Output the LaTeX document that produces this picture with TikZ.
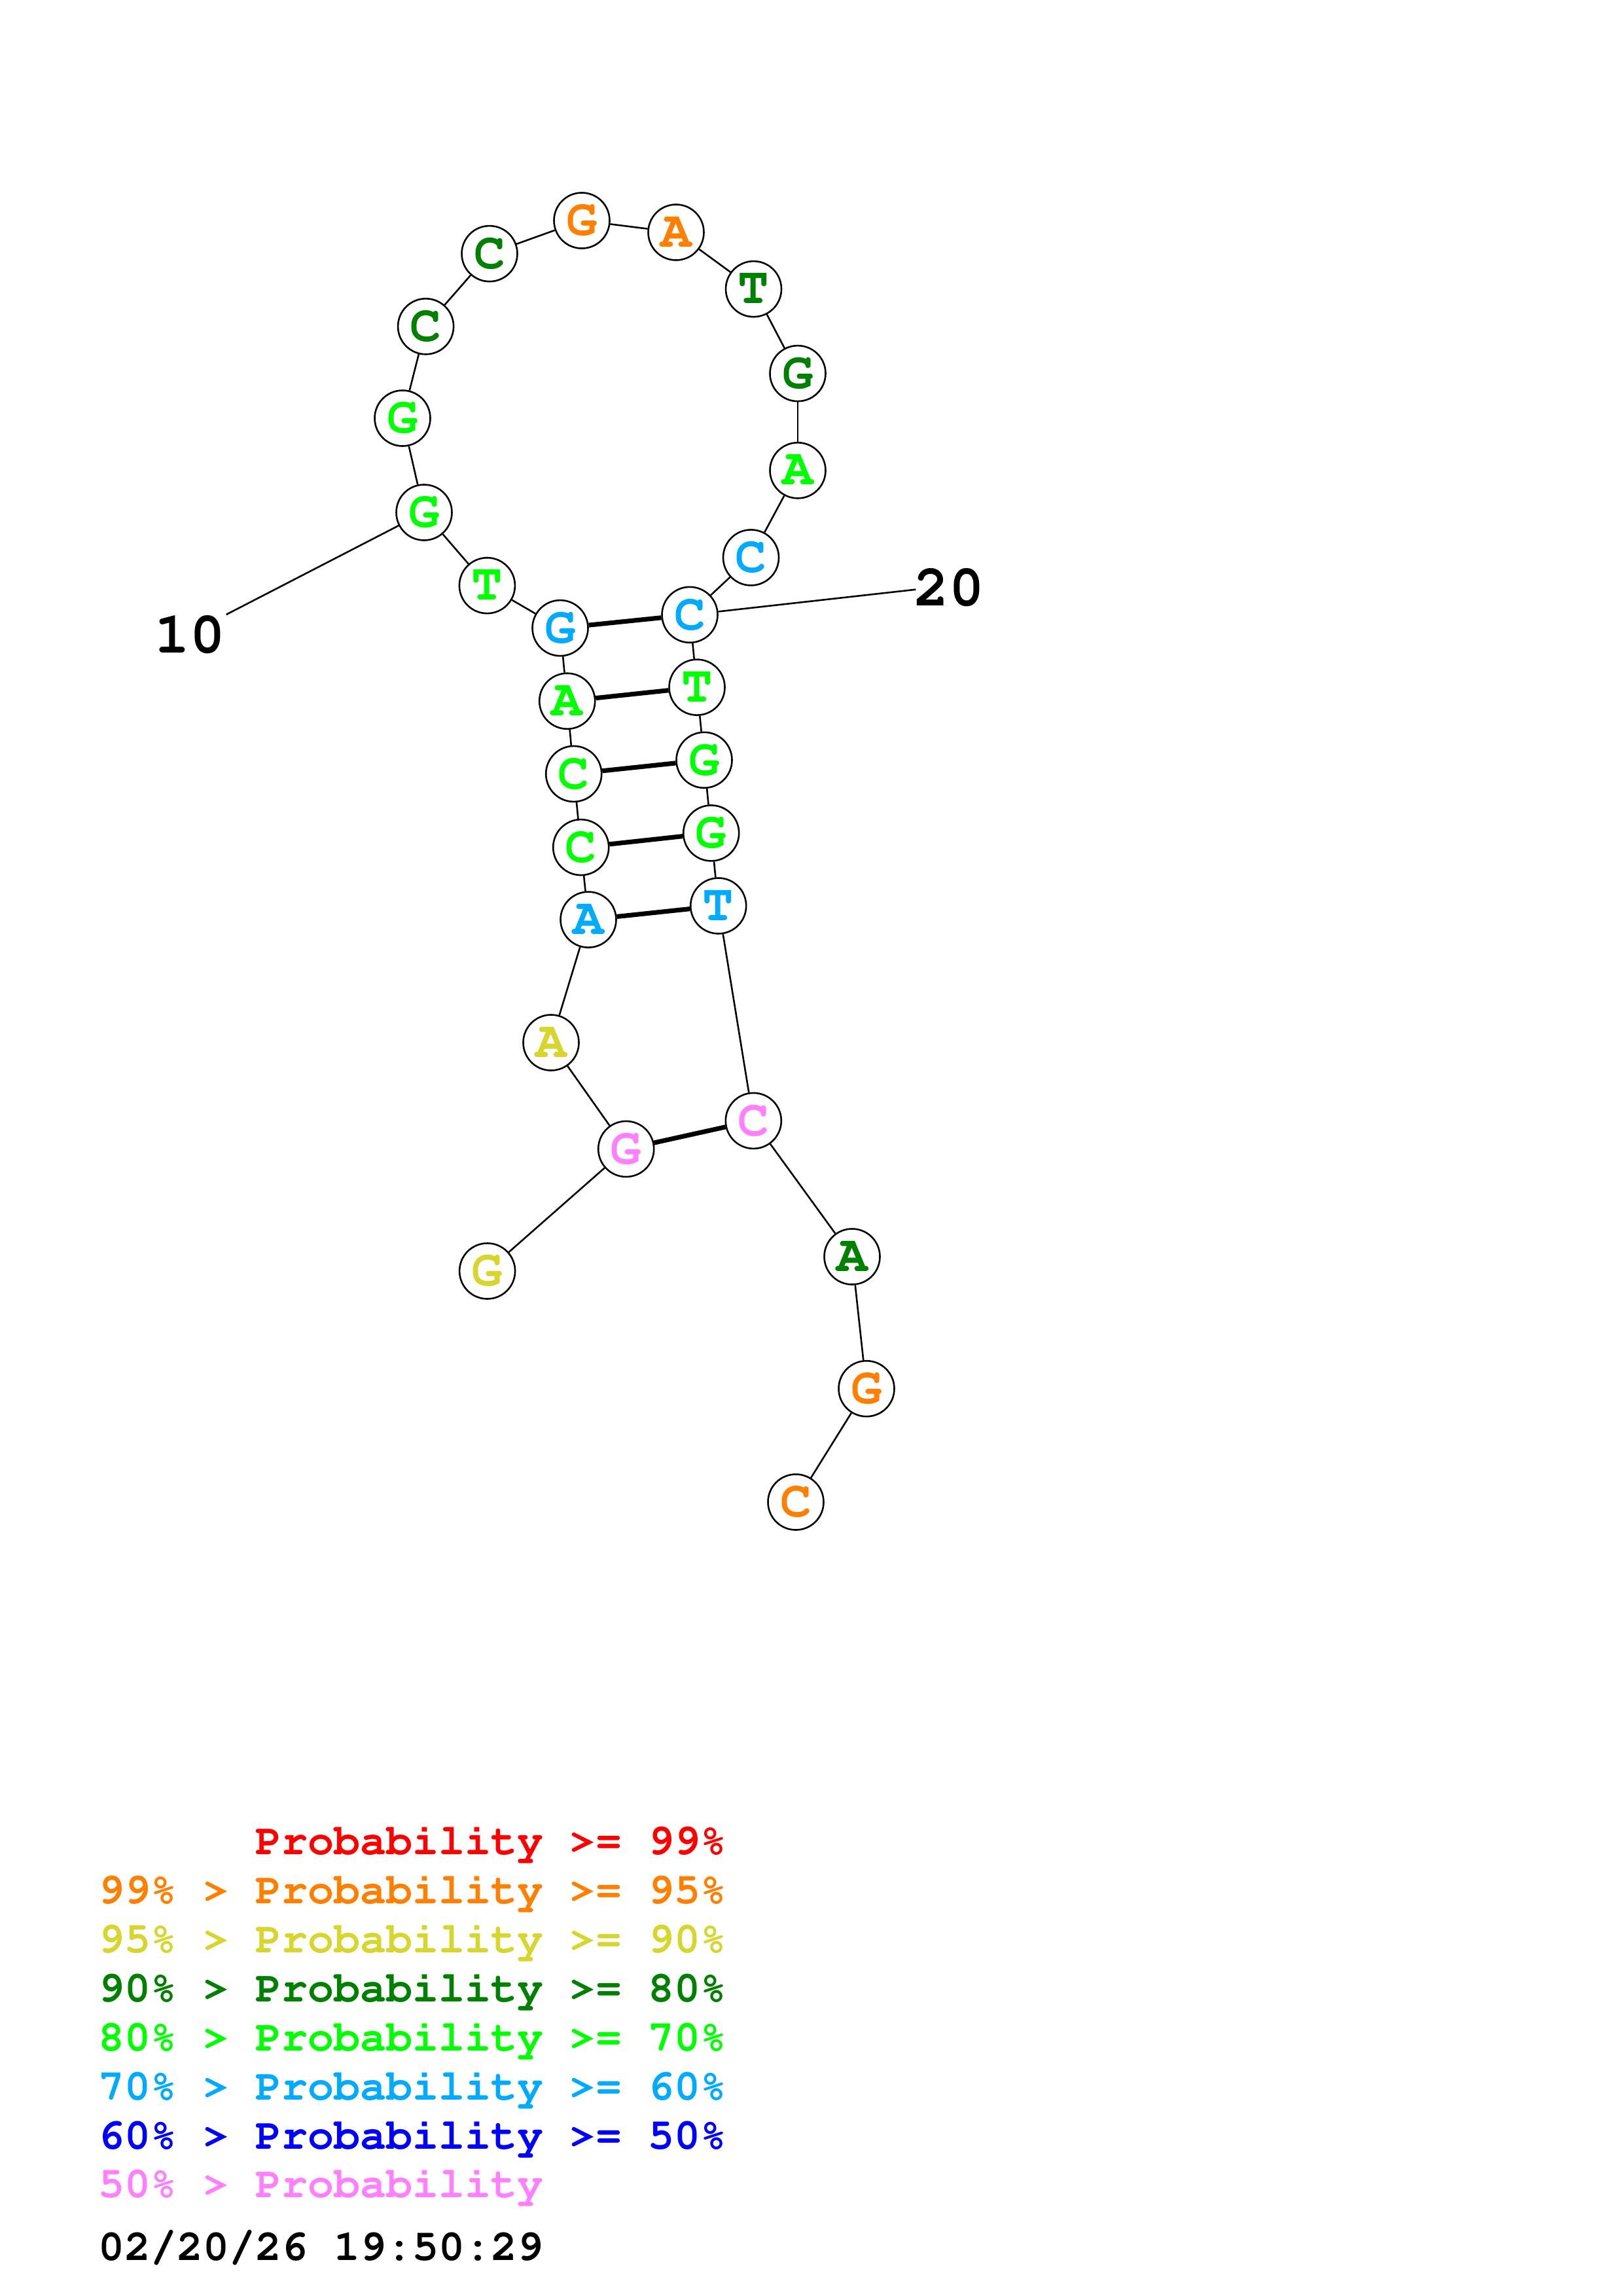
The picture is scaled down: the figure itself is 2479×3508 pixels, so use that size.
\documentclass[tikz,border=0pt]{standalone}
\usepackage[T1]{fontenc}
\usepackage{courier}

\definecolor{prA}{RGB}{255,0,0}
\definecolor{prB}{RGB}{255,128,0}
\definecolor{prC}{RGB}{214,214,46}
\definecolor{prD}{RGB}{0,128,0}
\definecolor{prE}{RGB}{0,255,0}
\definecolor{prF}{RGB}{0,170,255}
\definecolor{prG}{RGB}{0,0,255}
\definecolor{prH}{RGB}{255,128,255}

\tikzset{
  base/.style={draw,circle,fill=white,line width=.62pt,minimum size=20.4pt,inner sep=0pt,
    font=\ttfamily\bfseries\fontsize{19}{19}\selectfont},
  bond/.style={line width=.62pt},
  pairbond/.style={line width=1.7pt},
  numlab/.style={inner sep=0pt,font=\ttfamily\bfseries\fontsize{21.5}{21.5}\selectfont},
  legend/.style={anchor=base west,inner sep=0pt,font=\ttfamily\bfseries\fontsize{16}{16}\selectfont}
}

\begin{document}
\begin{tikzpicture}[x=0.24pt,y=-0.24pt]
\useasboundingbox (0,0) rectangle (2479,3508);
% 5' tail and stem
\node[base,text=prC] (n1) at (744.6,1942) {G};
\node[base,text=prH] (n2) at (956.7,1755.5) {G};
\node[base,text=prC] (n3) at (842,1593) {A};
\node[base,text=prF] (n4) at (899,1405.1) {A};
\node[base,text=prE] (n5) at (887.7,1294.6) {C};
\node[base,text=prE] (n6) at (876.7,1182.4) {C};
\node[base,text=prE] (n7) at (866.7,1071.2) {A};
\node[base,text=prF] (n8) at (856,959.6) {G};
% hairpin loop
\node[base,text=prE] (n9) at (744.4,894.7) {T};
\node[base,text=prE] (n10) at (648,783) {G};
\node[base,text=prE] (n11) at (615,639) {G};
\node[base,text=prD] (n12) at (650.6,498.8) {C};
\node[base,text=prD] (n13) at (748,387.6) {C};
\node[base,text=prB] (n14) at (889,337) {G};
\node[base,text=prB] (n15) at (1033,355) {A};
\node[base,text=prD] (n16) at (1151.5,441.6) {T};
\node[base,text=prD] (n17) at (1219,570.6) {G};
\node[base,text=prE] (n18) at (1219,718.8) {A};
\node[base,text=prF] (n19) at (1147.5,851.9) {C};
% 3' side
\node[base,text=prF] (n20) at (1054,939.3) {C};
\node[base,text=prE] (n21) at (1065,1050.1) {T};
\node[base,text=prE] (n22) at (1076,1161.3) {G};
\node[base,text=prE] (n23) at (1086.7,1272.9) {G};
\node[base,text=prF] (n24) at (1097.7,1384) {T};
\node[base,text=prH] (n25) at (1151.3,1712.4) {C};
\node[base,text=prD] (n26) at (1302,1920) {A};
\node[base,text=prB] (n27) at (1324,2121.7) {G};
\node[base,text=prB] (n28) at (1216,2295) {C};

\foreach \i [count=\j from 2] in {1,...,27}
  \draw[bond] (n\i) -- (n\j);
\foreach \a/\b in {2/25,4/24,5/23,6/22,7/21,8/20}
  \draw[pairbond] (n\a) -- (n\b);

% position labels
\coordinate (t10) at (345.7,939);
\coordinate (t20) at (1399.3,900.7);
\draw[bond] (n10) -- (t10);
\draw[bond] (n20) -- (t20);
\node[numlab] (lab10) at (290,970) {10};
\node[numlab] (lab20) at (1450,898) {20};

% legend
\node[legend,text=prA] (leg1) at (150,2833.6) {\phantom{99\% > }Probability >= 99\%};
\node[legend,text=prB] (leg2) at (150,2908.5) {99\% > Probability >= 95\%};
\node[legend,text=prC] (leg3) at (150,2983.4) {95\% > Probability >= 90\%};
\node[legend,text=prD] (leg4) at (150,3058.3) {90\% > Probability >= 80\%};
\node[legend,text=prE] (leg5) at (150,3133.2) {80\% > Probability >= 70\%};
\node[legend,text=prF] (leg6) at (150,3208.1) {70\% > Probability >= 60\%};
\node[legend,text=prG] (leg7) at (150,3283.0) {60\% > Probability >= 50\%};
\node[legend,text=prH] (leg8) at (150,3357.9) {50\% > Probability};
\node[legend] (stamp) at (150,3453) {02/20/26 19:50:29};
\end{tikzpicture}
\end{document}
